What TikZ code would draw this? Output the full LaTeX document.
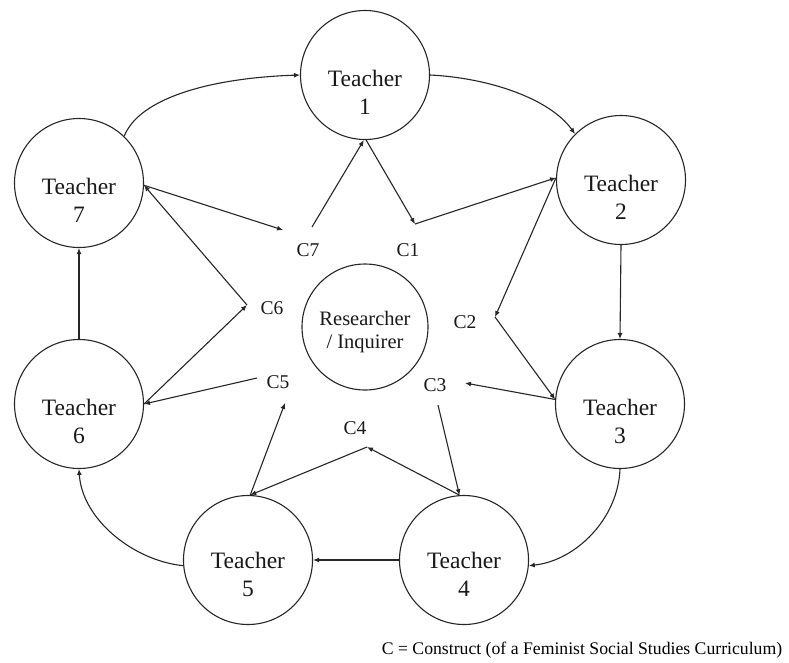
\documentclass[tikz,border=0pt]{standalone}
\usepackage{fontspec}
\setmainfont{Liberation Serif}
\usetikzlibrary{arrows.meta}
\begin{document}
\begin{tikzpicture}[x=1pt,y=-1pt,
  teacher/.style={circle,draw=black!85,line width=1.1pt,minimum size=129pt,inner sep=0pt},
  tlbl/.style={align=center,font=\fontsize{23.5}{28}\selectfont,inner sep=0pt,text=black!90},
  rlbl/.style={align=center,font=\fontsize{20.5}{23}\selectfont,inner sep=0pt,text=black!90},
  clbl/.style={font=\fontsize{19.5}{22}\selectfont,inner sep=0pt,text=black!90},
  captext/.style={font=\fontsize{17.7}{20}\selectfont,inner sep=0pt},
  conn/.style={draw=black!85,line width=1.1pt,-{Latex[length=6pt,width=5pt]}},
]
\useasboundingbox (0,0) rectangle (789,662);
% circles
\node[teacher] (T1) at (365,75) {};
\node[teacher] (T2) at (621,180) {};
\node[teacher] (T3) at (620,404) {};
\node[teacher] (T4) at (464,560) {};
\node[teacher] (T5) at (248,560) {};
\node[teacher] (T6) at (79,404) {};
\node[teacher] (T7) at (79,183) {};
\node[teacher,minimum size=126pt] (R) at (365,327) {};
% texts
\node[tlbl] (L1) at ([yshift=-17pt]T1.center) {Teacher\\1};
\node[tlbl] (L2) at ([yshift=-17pt]T2.center) {Teacher\\2};
\node[tlbl] (L3) at ([yshift=-17pt]T3.center) {Teacher\\3};
\node[tlbl] (L4) at ([yshift=-14pt]T4.center) {Teacher\\4};
\node[tlbl] (L5) at ([yshift=-14pt]T5.center) {Teacher\\5};
\node[tlbl] (L6) at ([yshift=-17pt]T6.center) {Teacher\\6};
\node[tlbl] (L7) at ([yshift=-17pt]T7.center) {Teacher\\7};
\node[rlbl] (RL) at ([yshift=-5pt]R.center) {Researcher\\/ Inquirer};
% construct labels
\node[clbl] (C7) at (308,250) {C7};
\node[clbl] (C1) at (408,250) {C1};
\node[clbl] (C2) at (465,322) {C2};
\node[clbl] (C3) at (435,385) {C3};
\node[clbl] (C4) at (355,428) {C4};
\node[clbl] (C5) at (278,382) {C5};
\node[clbl] (C6) at (272,308) {C6};
\node[captext] (CAP) at (582,650) {C = Construct (of a Feminist Social Studies Curriculum)};
% construct points
\coordinate (p7a) at (312,227);
\coordinate (p7b) at (283,230);
\coordinate (p1) at (415,224);
\coordinate (p2) at (495,317);
\coordinate (p3a) at (465,383);
\coordinate (p3b) at (438,405);
\coordinate (p4) at (367,447);
\coordinate (p5a) at (285,403);
\coordinate (p5b) at (257,378);
\coordinate (p6) at (247,305);
% outer ring
\draw[conn] (T7.46) .. controls +(15,-38) and +(-90,3) .. (T1.180);
\draw[conn] (T1.0) .. controls +(60,3) and +(-25,-35) .. (T2.135);
\draw[conn] (T2.-90) -- (T3.90);
\draw[conn] (T3.-90) .. controls +(-2,50) and +(47,-5) .. (T4.-5);
\draw[conn] (T4.180) -- (T5.0);
\draw[conn] (T5.185) .. controls +(-50,-5) and +(3,50) .. (T6.-90);
\draw[conn] (T6.90) -- (T7.-90);
% spokes
\draw[conn] (p7a) -- (T1.-91);
\draw[conn] (T1.-89) -- (p1);
\draw[conn] (p1) -- (T2.178);
\draw[conn] (T2.178) -- (p2);
\draw[conn] (p2) -- (T3.176);
\draw[conn] (T3.176) -- (p3a);
\draw[conn] (p3b) -- (T4.94);
\draw[conn] (T4.94) -- (p4);
\draw[conn] (p4) -- (T5.88);
\draw[conn] (T5.88) -- (p5a);
\draw[conn] (p5b) -- (T6.0);
\draw[conn] (T6.0) -- (p6);
\draw[conn] (p6) -- (T7.-2);
\draw[conn] (T7.-2) -- (p7b);
\end{tikzpicture}
\end{document}
